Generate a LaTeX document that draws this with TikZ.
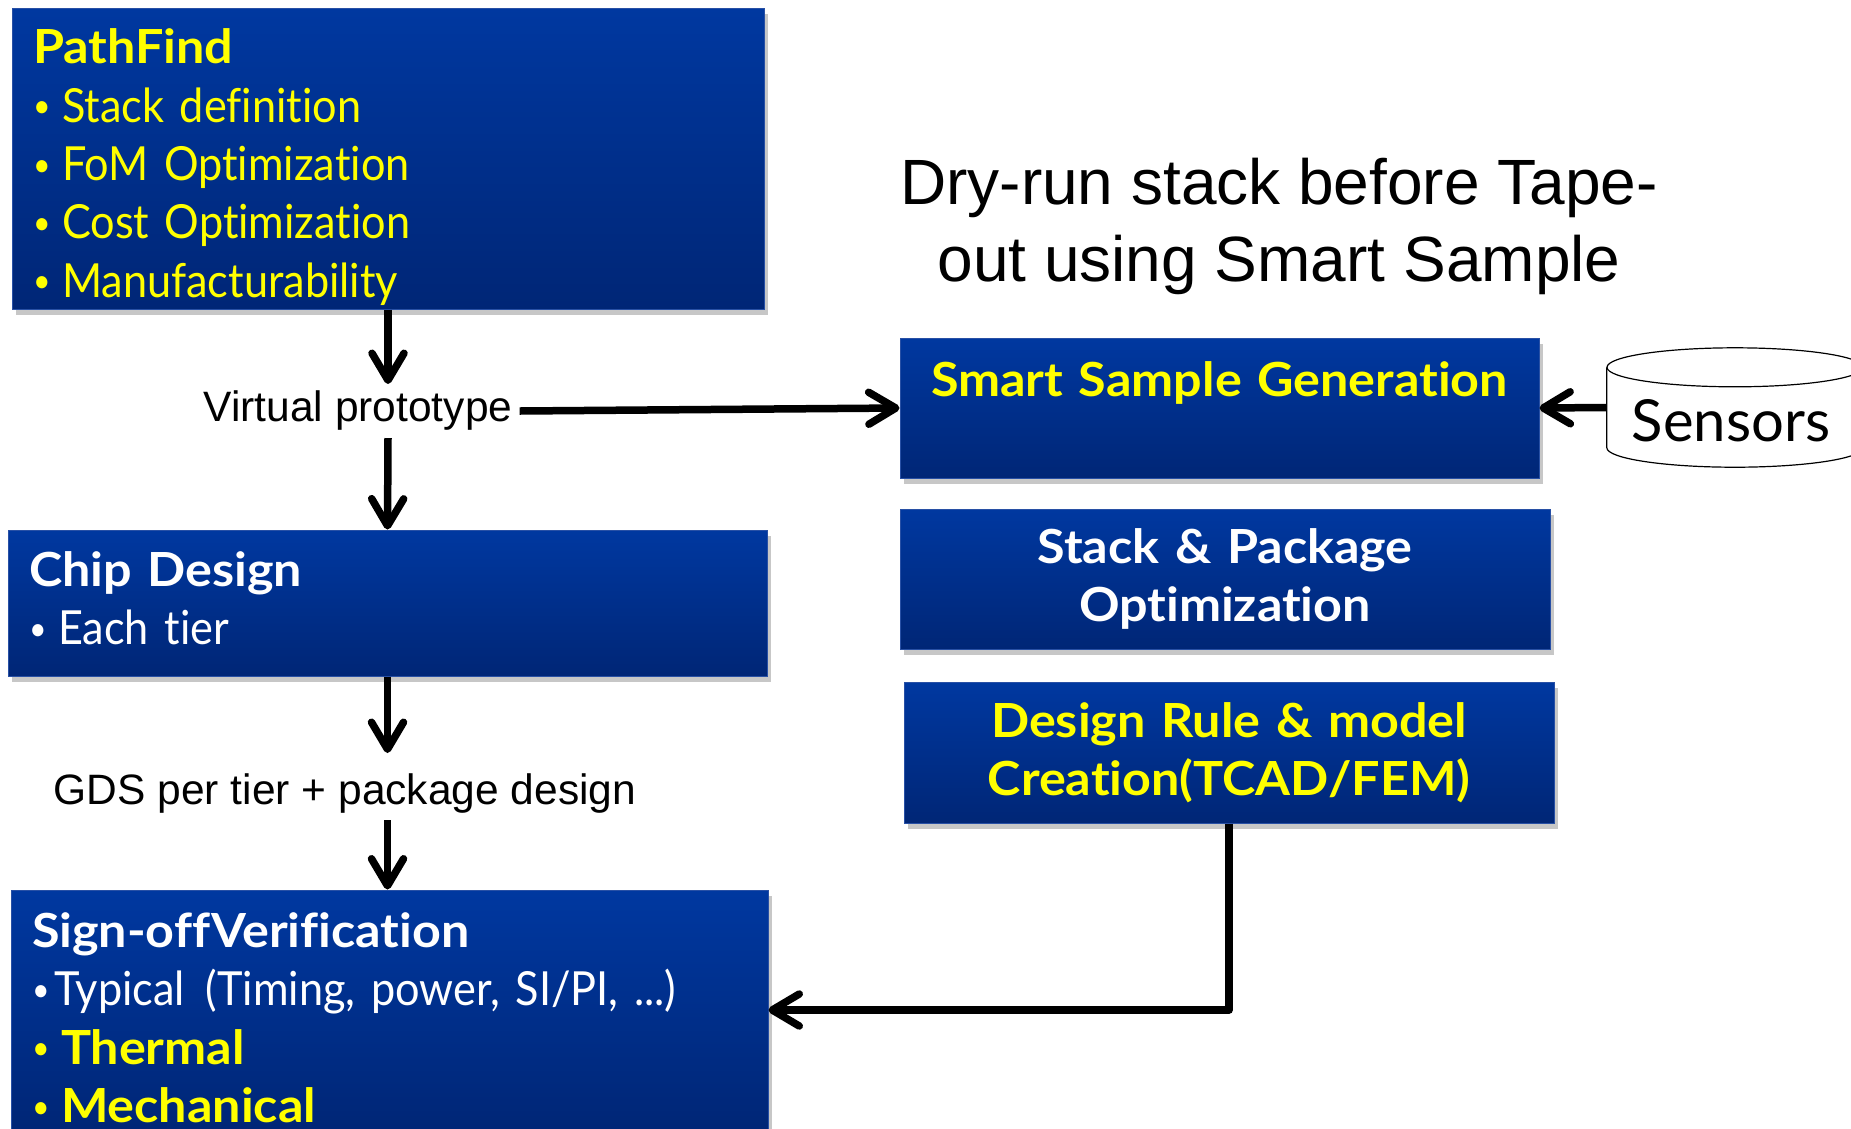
\documentclass[tikz,border=0pt]{standalone}
\usepackage{fontspec}
\setmainfont{Lato}[Ligatures=NoCommon, WordSpace=0.85, UprightFeatures={FakeStretch=0.92}, BoldFeatures={FakeStretch=1.07}]
\newfontfamily\sensf{Lato}[Ligatures=NoCommon]
\newfontfamily\arialf{Liberation Sans}
\usetikzlibrary{arrows.meta,shadows}
\definecolor{boxtop}{RGB}{0,56,160}
\definecolor{boxbot}{RGB}{0,38,118}
\definecolor{boxedge}{RGB}{40,80,165}
\definecolor{yel}{RGB}{255,255,0}
\newcommand\bul{\makebox[29pt][l]{\raisebox{0.09em}{\scalebox{0.7}{\mdseries •}}}}
\newcommand\bulnarrow{\makebox[22pt][l]{\raisebox{0.09em}{\scalebox{0.7}{\mdseries •}}}}
\newcommand\tst{\rule{0pt}{36pt}}
\newcommand\bst{\rule[-11pt]{0pt}{0pt}}
\begin{document}
\begin{tikzpicture}[x=1pt,y=-1pt,
  bluebox/.style={draw=boxedge, line width=1pt, top color=boxtop, bottom color=boxbot,
    drop shadow={shadow xshift=4pt, shadow yshift=-6pt, fill=black, opacity=0.22},
    font=\fontsize{47}{58.3}\selectfont, inner xsep=21pt, inner ysep=0pt, anchor=center},
  leftbox/.style={bluebox, align=left},
  midbox/.style={bluebox, align=center, font=\fontsize{47}{58.3}\selectfont\bfseries},
  plainlabel/.style={font=\arialf\fontsize{42.5}{48}\selectfont, inner sep=7pt, anchor=center},
  arr/.style={line width=7.5pt, line join=round, -{Straight Barb[length=27pt,width=32pt,round]}}
]
\useasboundingbox (0,0) rectangle (1851,1128);
\clip (0,0) rectangle (1851,1128);

% left column
\node[leftbox, text=yel, text width=710pt, minimum height=301pt] (pf) at (388,158.5)
  {\rule{0pt}{55pt}\textbf{PathFind}\\ \bul Stack definition\\ \bul FoM Optimization\\ \bul Cost Optimization\\ \bul Manufacturability\bst};
\node[leftbox, text=white, text width=717pt, minimum height=146pt] (chip) at (387.5,603)
  {\tst\textbf{Chip Design}\\ \bul Each tier\bst};
\node[leftbox, text=white, text width=715pt, minimum height=240pt] (signoff) at (389.5,1010)
  {\rule{0pt}{56.5pt}\textbf{Sign-off\kern1pt Verification}\\ \bulnarrow Typical\hspace{5pt} (Timing, power, SI/PI, ...)\\
   \textcolor{yel}{\bul\textbf{Thermal}}\\ \textcolor{yel}{\bul\textbf{Mechanical}}\rule[-6.5pt]{0pt}{0pt}};

% labels
\node[plainlabel] (vp) at (358,411) {Virtual prototype};
\node[plainlabel] (gds) at (345,793) {GDS per tier + package design};

% right column
\node[midbox, text=yel, text width=597pt, minimum height=140pt] (smart) at (1219.5,408)
  {Smart Sample Generation\\ \mbox{}};
\node[midbox, text=white, text width=608pt, minimum height=140pt] (stack) at (1225,579)
  {Stack \& Package\\ Optimization};
\node[midbox, text=yel, text width=608pt, minimum height=141pt] (design) at (1229,752.5)
  {Design Rule \& model\\ Creation(TCAD/FEM)};

% title
\node[font=\arialf\fontsize{64}{77}\selectfont, align=center, inner sep=0pt] (title) at (1279,226)
  {Dry-run stack before Tape-\\ out using Smart Sample};

% sensors cylinder
\node[minimum width=256pt, minimum height=119pt, inner sep=0pt] (sens) at (1735,407.5) {};
\draw[line width=1.2pt, fill=white]
  ([yshift=-19.5pt]sens.north west) -- ([yshift=19.5pt]sens.south west)
  arc[start angle=180, end angle=0, x radius=128, y radius=19.5]
  -- ([yshift=-19.5pt]sens.north east);
\draw[line width=1.2pt, fill=white] ([yshift=-19.5pt]sens.north) ellipse[x radius=128, y radius=19.5];
\node[font=\sensf\fontsize{58}{64}\selectfont, inner sep=0pt] (senstext) at (1731,421) {Sensors};

% connectors
\draw[arr] (pf.south) -- (pf.south |- vp.north);
\draw[arr] (vp.south -| pf.south) -- (chip.north);
\draw[arr] (vp.east) -- (smart.west);
\draw[arr, shorten >=13pt] (chip.south) -- (chip.south |- gds.north);
\draw[arr] (gds.south -| chip.south) -- (signoff.north -| chip.south);
\draw[arr] (sens.west) -- (smart.east);
\draw[arr] (design.south) |- (signoff.east);
\end{tikzpicture}
\end{document}
